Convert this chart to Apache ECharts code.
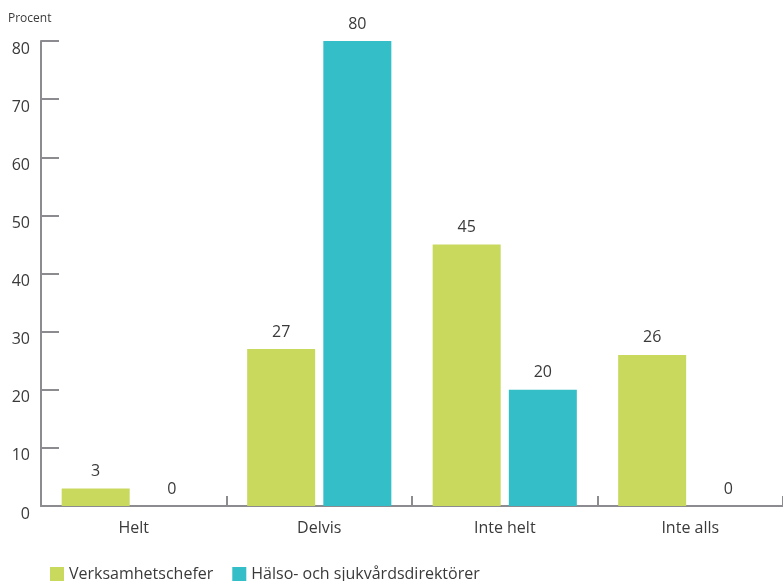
<!DOCTYPE html>
<html>
<head>
<meta charset="utf-8">
<script src="https://cdn.jsdelivr.net/npm/echarts@6/dist/echarts.min.js"></script>
<style>
  html, body { margin: 0; padding: 0; background: #fff; }
  #chart { width: 783px; height: 581px; }
</style>
</head>
<body>
<div id="chart"></div>
<script>
// Categories and values (percent)
const categories = ['Helt', 'Delvis', 'Inte helt', 'Inte alls'];
const verksamhetschefer = [3, 27, 45, 26];
const direktorer = [0, 80, 20, 0];
const yTicks = [0, 10, 20, 30, 40, 50, 60, 70, 80];

const axisColor = '#8c8c90';
const textColor = '#3a3a3a';
const fontFamily = '"Open Sans", "Noto Sans", sans-serif';

const chart = echarts.init(document.getElementById('chart'));

const labelStyle = {
  show: true,
  position: 'top',
  distance: 9,
  color: textColor,
  fontSize: 16,
  fontFamily: fontFamily
};

chart.setOption({
  animation: false,
  textStyle: { fontFamily: fontFamily },
  graphic: [{
    type: 'text',
    left: 8,
    top: 13,
    style: { text: 'Procent', fill: textColor, fontSize: 12, fontFamily: fontFamily }
  }],
  legend: {
    left: 45,
    top: 561,
    itemWidth: 14,
    itemHeight: 14,
    itemGap: 19,
    icon: 'rect',
    textStyle: { color: textColor, fontSize: 16, fontFamily: fontFamily },
    data: ['Verksamhetschefer', 'Hälso- och sjukvårdsdirektörer']
  },
  grid: { left: 41, right: 0, top: 41, bottom: 75, containLabel: false },
  xAxis: {
    type: 'category',
    data: categories,
    axisLine: { lineStyle: { color: axisColor, width: 2 } },
    axisTick: { show: true, inside: true, length: 10, lineStyle: { color: axisColor, width: 2 } },
    axisLabel: { color: textColor, fontSize: 16, margin: 14, fontFamily: fontFamily }
  },
  yAxis: {
    type: 'value',
    min: yTicks[0],
    max: yTicks[yTicks.length - 1],
    interval: 10,
    splitLine: { show: false },
    axisLine: { show: true, lineStyle: { color: axisColor, width: 2 } },
    axisTick: { show: true, inside: true, length: 18, lineStyle: { color: axisColor, width: 2 } },
    axisLabel: { color: textColor, fontSize: 16, margin: 11, verticalAlign: 'top', lineHeight: 16, fontFamily: fontFamily }
  },
  series: [
    {
      name: 'Verksamhetschefer',
      type: 'bar',
      data: verksamhetschefer,
      barWidth: 68,
      barGap: '12%',
      itemStyle: { color: '#c8d95e' },
      label: labelStyle
    },
    {
      name: 'Hälso- och sjukvårdsdirektörer',
      type: 'bar',
      data: direktorer,
      barWidth: 68,
      itemStyle: { color: '#33bec8' },
      label: labelStyle
    }
  ]
});
</script>
</body>
</html>
